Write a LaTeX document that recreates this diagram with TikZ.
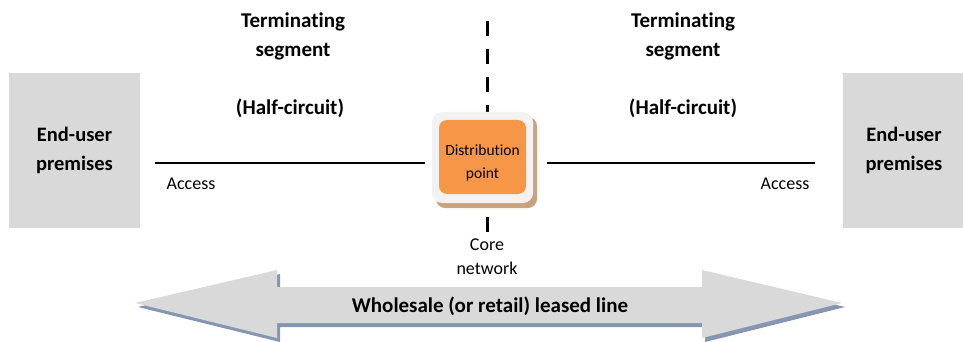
\documentclass[tikz,border=0pt]{standalone}
\usepackage{fontspec}
\setmainfont{Carlito}[Ligatures=NoCommon]
\begin{document}
\begin{tikzpicture}[x=1pt,y=-1pt,
  premises/.style={fill=boxgray,draw=none,minimum width=131pt,minimum height=155pt,font=\fontsize{20.5}{24}\selectfont\bfseries,align=center},
  title/.style={font=\fontsize{21}{24}\selectfont\bfseries,align=center},
  small/.style={font=\fontsize{18}{20}\selectfont},
  conn/.style={line width=1.2pt}]
\definecolor{boxgray}{HTML}{D9D9D9}
\definecolor{shadowblue}{HTML}{8497B0}
\definecolor{orangebox}{HTML}{F79646}
\definecolor{tan}{HTML}{C9A27E}
\definecolor{paleg}{HTML}{F2F2F2}
\useasboundingbox (0,0) rectangle (963,342);
% dashed vertical
\coordinate (dtop) at (487,21);
\coordinate (dbot) at (487,232);
\draw[line width=3pt,dash pattern=on 15pt off 13pt] (dtop) -- (dbot);
% end-user boxes
\node[premises] (L) at (74.5,150.5) {End-user\\[5pt]premises};
\node[premises,minimum width=122pt] (R) at (904,150.5) {End-user\\[5pt]premises};
% distribution point
\fill[tan,rounded corners=9pt] (436,117) rectangle (537,208);
\fill[paleg,rounded corners=10pt] (432,112) rectangle (533,203);
\node[fill=orangebox,rounded corners=8pt,minimum width=87pt,minimum height=74pt,inner sep=0pt] (D) at (482.5,157) {};
\node[font=\fontsize{15.5}{23}\selectfont,align=center,inner sep=0pt] (DT) at (482.5,163) {Distribution\\point};
% access lines
\coordinate (la) at (155,163);
\coordinate (lb) at (425,163);
\coordinate (ra) at (547,163);
\coordinate (rb) at (815,163);
\draw[conn] (la) -- (lb);
\draw[conn] (ra) -- (rb);
\node[small] (acl) at (191,184) {Access};
\node[small] (acr) at (785,184) {Access};
% titles
\node[title] (t1) at (293,22) {Terminating};
\node[title] (s1) at (293,52) {segment};
\node[title] (h1) at (290,108) {(Half-circuit)};
\node[title] (t2) at (683,22) {Terminating};
\node[title] (s2) at (683,52) {segment};
\node[title] (h2) at (683,108) {(Half-circuit)};
\node[small] (c1) at (487,245) {Core};
\node[small] (c2) at (487,268) {network};
% double arrow
\fill[shadowblue] (138,307) -- (280,274) -- (280,291) -- (705,291) -- (705,274) -- (845,307)
  -- (705,342) -- (705,327) -- (280,327) -- (280,342) -- cycle;
\fill[boxgray] (135,303) -- (277,270) -- (277,287) -- (702,287) -- (702,270) -- (842,303)
  -- (702,338) -- (702,323) -- (277,323) -- (277,338) -- cycle;
\node[title] (W) at (490,306) {Wholesale (or retail) leased line};
\end{tikzpicture}
\end{document}
